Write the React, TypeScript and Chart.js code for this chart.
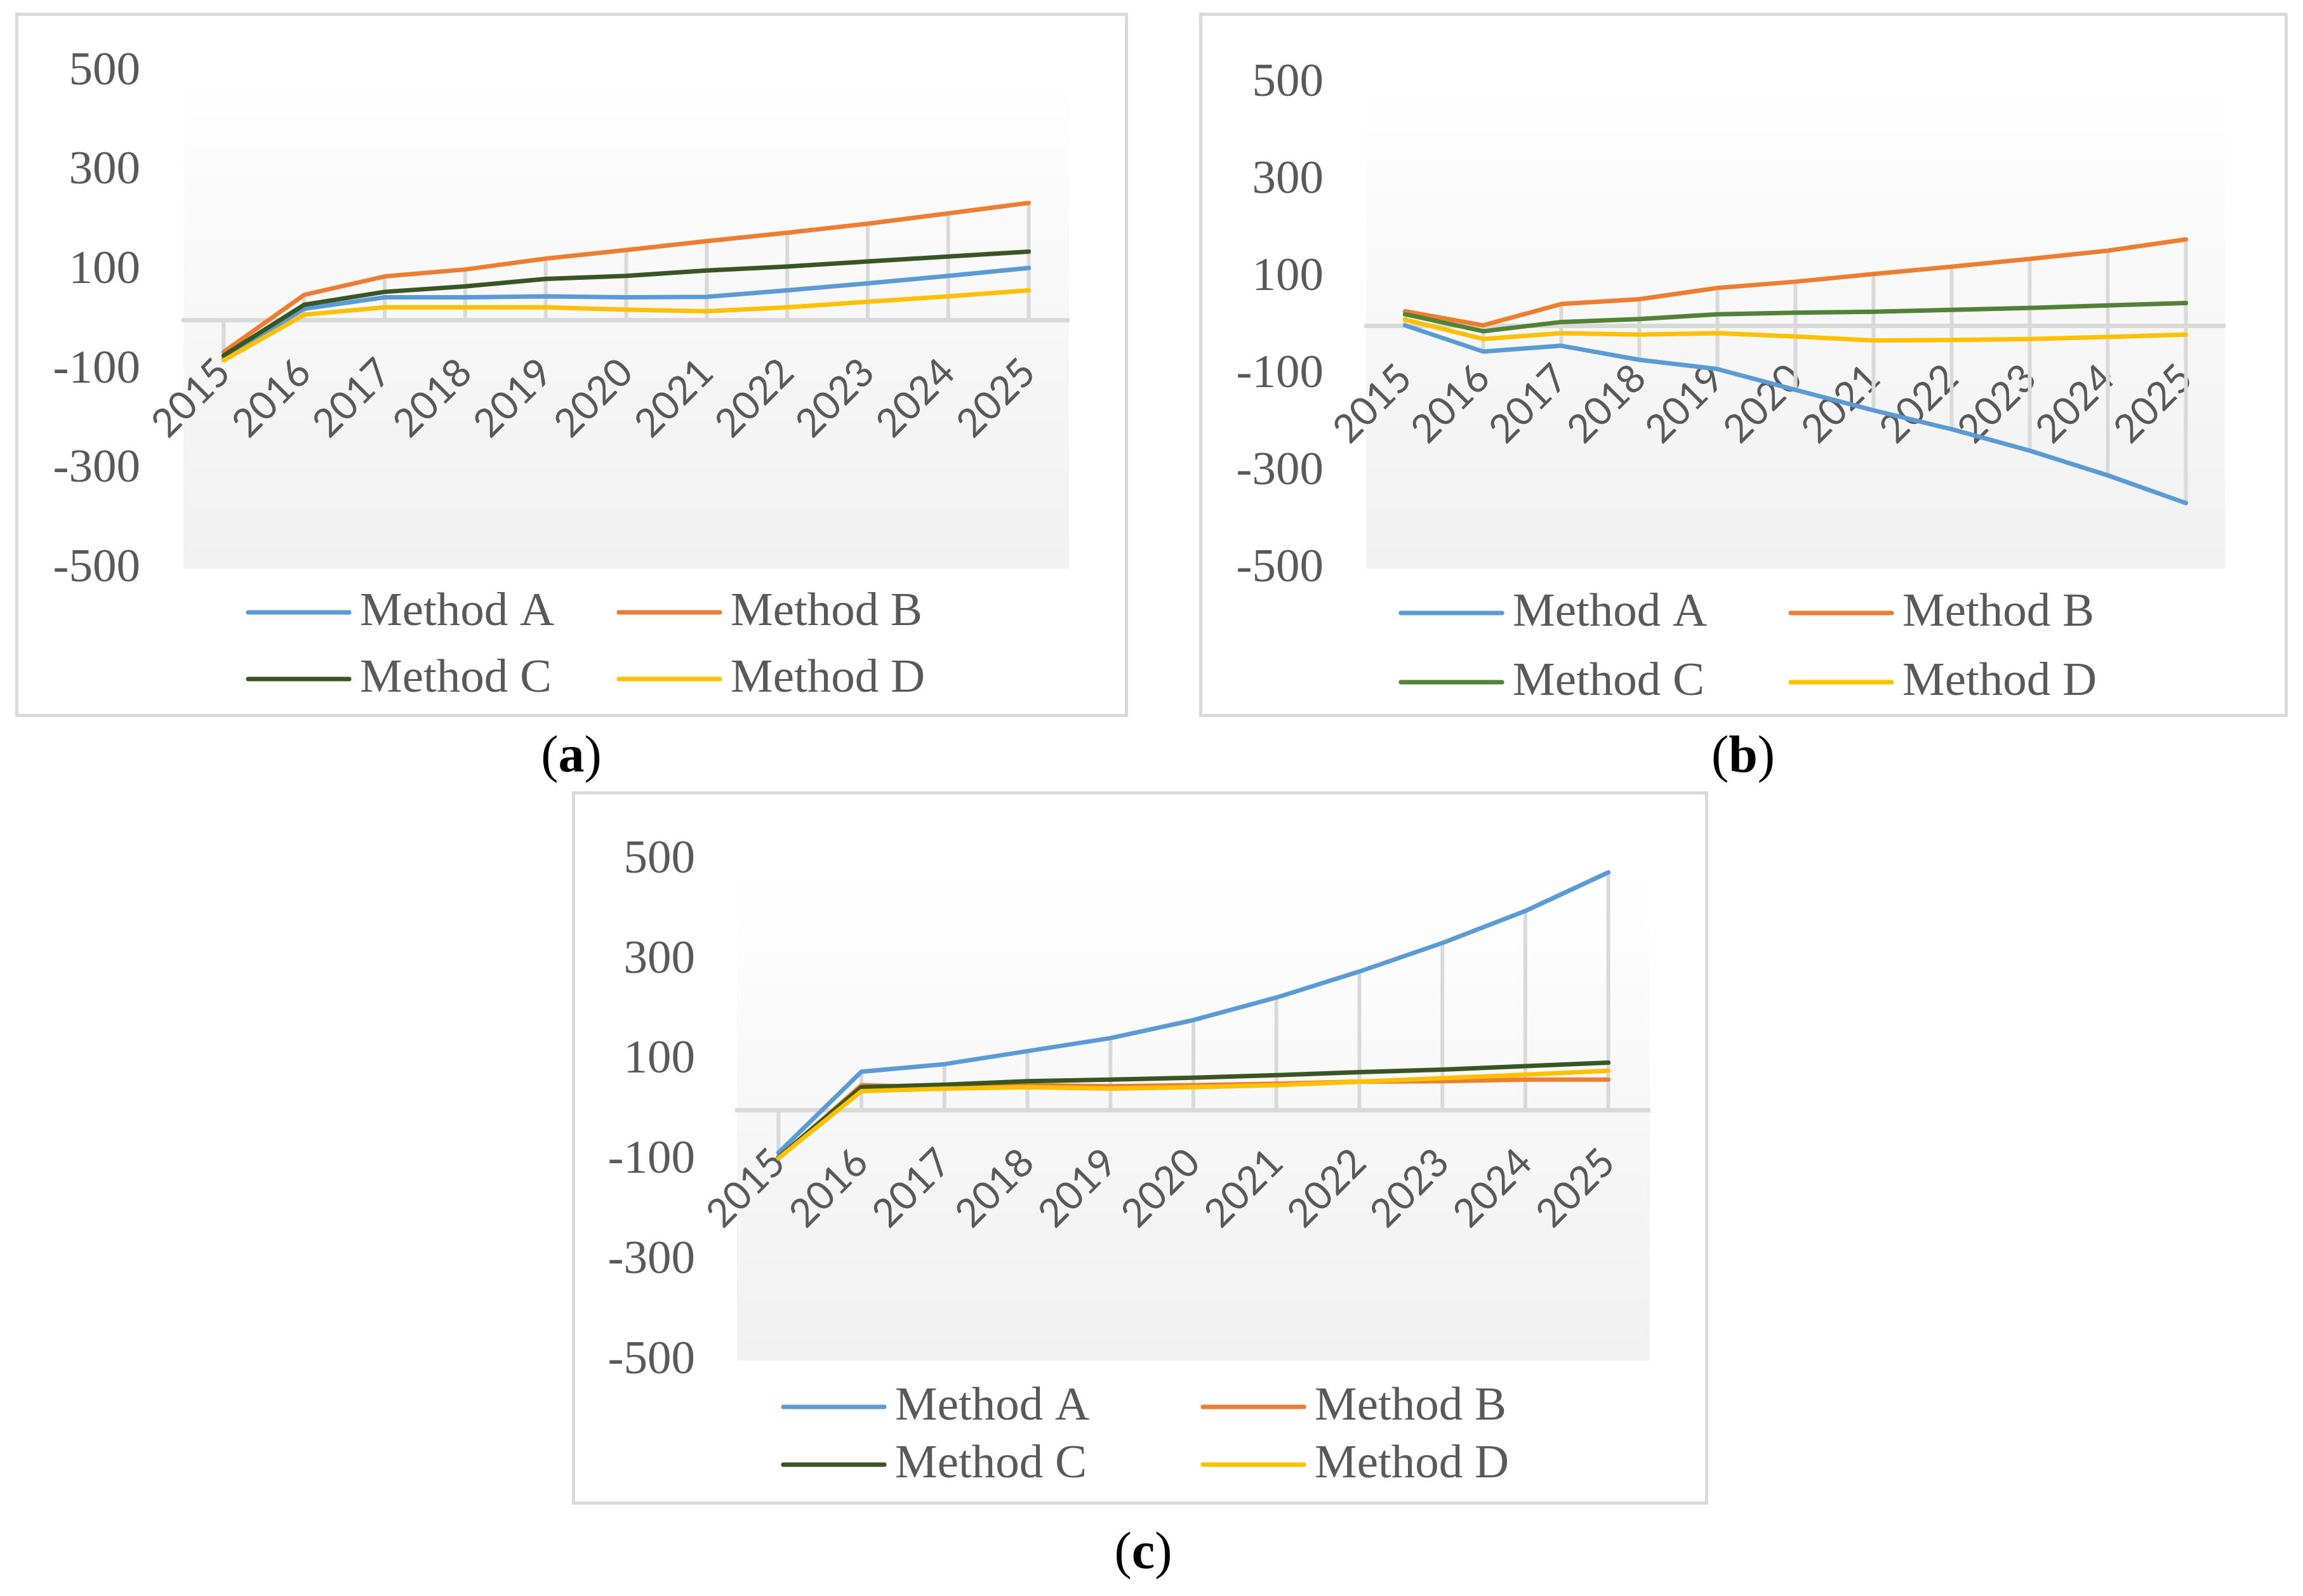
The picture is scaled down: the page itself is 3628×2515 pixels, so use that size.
import React, { useEffect, useRef } from "react";
import { Chart, registerables } from "chart.js";

Chart.register(...registerables);

// ---------- data ----------
const years = ["2015", "2016", "2017", "2018", "2019", "2020", "2021", "2022", "2023", "2024", "2025"];
const yTickValues = [-500, -300, -100, 100, 300, 500];
const seriesNames = ["Method A", "Method B", "Method C", "Method D"];

// panel (a)
const aMethodA = [-76, 23, 46, 46, 48, 46, 47, 60, 74, 89, 105];
const aMethodB = [-64, 51, 88, 102, 124, 141, 159, 176, 194, 215, 236];
const aMethodC = [-71, 31, 57, 68, 83, 89, 100, 108, 118, 128, 138];
const aMethodD = [-81, 11, 26, 26, 26, 21, 18, 26, 37, 48, 60];

// panel (b)
const bMethodA = [1, -53, -41, -70, -89, -132, -174, -213, -257, -308, -365];
const bMethodB = [30, 1, 45, 55, 78, 91, 107, 122, 138, 155, 178];
const bMethodC = [24, -11, 8, 14, 24, 27, 29, 33, 37, 42, 47];
const bMethodD = [13, -27, -15, -18, -15, -22, -30, -29, -27, -23, -18];

// panel (c)
const cMethodA = [-85, 77, 92, 118, 144, 180, 225, 277, 334, 398, 475];
const cMethodB = [-96, 50, 45, 50, 48, 50, 53, 57, 58, 61, 61];
const cMethodC = [-94, 46, 51, 58, 61, 65, 70, 76, 81, 88, 95];
const cMethodD = [-96, 38, 43, 46, 43, 46, 50, 57, 64, 71, 79];

// ---------- styles ----------
const colorsAC = ["#5b9bd5", "#ed7d31", "#375623", "#ffc000"];
const colorsB = ["#5b9bd5", "#ed7d31", "#538135", "#ffc000"];
const TEXT_GRAY = "#595959";
const LINE_W = 7;

const panels = [
  {
    key: "a",
    caption: "a",
    captionX: 900,
    captionBaseline: 1217,
    box: { left: 24, top: 20, width: 1753, height: 1110 },
    pad: { left: 260, top: 88, right: 88, bottom: 229 },
    yPad: 68,
    xPad: 46,
    fade: 0.12,
    legend: { x: 359, y: 940, colGap: 584, rowGap: 105 },
    series: [aMethodA, aMethodB, aMethodC, aMethodD],
    colors: colorsAC,
  },
  {
    key: "b",
    caption: "b",
    captionX: 2746,
    captionBaseline: 1217,
    box: { left: 1889, top: 20, width: 1715, height: 1110 },
    pad: { left: 258, top: 106, right: 94, bottom: 229 },
    yPad: 67,
    xPad: 46,
    fade: 0.13,
    legend: { x: 310, y: 941, colGap: 614, rowGap: 109 },
    series: [bMethodA, bMethodB, bMethodC, bMethodD],
    colors: colorsB,
  },
  {
    key: "c",
    caption: "c",
    captionX: 1801,
    captionBaseline: 2472,
    box: { left: 901, top: 1247, width: 1790, height: 1124 },
    pad: { left: 255, top: 103, right: 87, bottom: 222 },
    yPad: 66,
    xPad: 46,
    fade: 0.16,
    legend: { x: 325, y: 965, colGap: 661, rowGap: 91 },
    series: [cMethodA, cMethodB, cMethodC, cMethodD],
    colors: colorsAC,
  },
];

const BORDER = 5;

// ---------- plugins ----------
const bgPlugin = {
  id: "plotBg",
  beforeDraw(chart: any, _a: any, opts: any) {
    const { ctx, chartArea } = chart;
    if (!chartArea) return;
    const { left, top, right, bottom } = chartArea;
    const g = ctx.createLinearGradient(0, top, 0, bottom);
    g.addColorStop(0, "#ffffff");
    g.addColorStop(opts.fade, "#fdfdfd");
    g.addColorStop(0.5, "#f7f7f7");
    g.addColorStop(1, "#f1f1f1");
    ctx.save();
    ctx.fillStyle = g;
    ctx.fillRect(left, top, right - left, bottom - top);
    ctx.restore();
  },
};

const dropLinePlugin = {
  id: "dropLines",
  beforeDatasetsDraw(chart: any) {
    const { ctx } = chart;
    const x = chart.scales.x;
    const y = chart.scales.y;
    const n = chart.data.labels.length;
    ctx.save();
    ctx.strokeStyle = "#d9d9d9";
    ctx.lineWidth = 6;
    for (let i = 0; i < n; i++) {
      let hi = 0;
      let lo = 0;
      chart.data.datasets.forEach((ds: any) => {
        const v = ds.data[i];
        if (v > hi) hi = v;
        if (v < lo) lo = v;
      });
      const px = x.getPixelForValue(i);
      ctx.beginPath();
      ctx.moveTo(px, y.getPixelForValue(hi));
      ctx.lineTo(px, y.getPixelForValue(lo));
      ctx.stroke();
    }
    ctx.restore();
  },
};

const gridLegendPlugin = {
  id: "gridLegend",
  afterDraw(chart: any, _a: any, opts: any) {
    const { ctx } = chart;
    chart.data.datasets.forEach((ds: any, i: number) => {
      const col = i % 2;
      const row = Math.floor(i / 2);
      const x = opts.x + col * opts.colGap;
      const y = opts.y + row * opts.rowGap;
      ctx.save();
      ctx.strokeStyle = ds.borderColor;
      ctx.lineWidth = LINE_W;
      ctx.lineCap = "round";
      ctx.beginPath();
      ctx.moveTo(x + 3, y);
      ctx.lineTo(x + 162, y);
      ctx.stroke();
      ctx.fillStyle = TEXT_GRAY;
      ctx.font = '75px "Liberation Serif"';
      ctx.textBaseline = "middle";
      ctx.textAlign = "left";
      ctx.fillText(ds.label, x + 179, y);
      ctx.restore();
    });
  },
};

function Panel({ cfg }: { cfg: any }) {
  const ref = useRef<HTMLCanvasElement | null>(null);
  const w = cfg.box.width - 2 * BORDER;
  const h = cfg.box.height - 2 * BORDER;

  useEffect(() => {
    if (!ref.current) return;
    const chart = new Chart(ref.current, {
      type: "line",
      data: {
        labels: years,
        datasets: seriesNames.map((name, i) => ({
          label: name,
          data: cfg.series[i],
          borderColor: cfg.colors[i],
          backgroundColor: cfg.colors[i],
          borderWidth: LINE_W,
          pointRadius: 0,
          pointHoverRadius: 0,
          tension: 0,
          fill: false,
          borderJoinStyle: "round",
          borderCapStyle: "round",
          order: 4 - i,
        })),
      },
      options: {
        animation: false,
        responsive: false,
        devicePixelRatio: 1,
        events: [],
        layout: {
          padding: { left: 0, top: cfg.pad.top, right: cfg.pad.right, bottom: cfg.pad.bottom },
        },
        scales: {
          x: {
            type: "category",
            position: { y: 0 },
            offset: true,
            grid: { display: true, color: "rgba(0,0,0,0)", drawTicks: false, offset: true },
            border: { display: true, color: "#d9d9d9", width: 7 },
            afterFit: (s: any) => {
              s.paddingLeft = 0;
              s.paddingRight = 0;
            },
            ticks: {
              autoSkip: false,
              minRotation: 45,
              maxRotation: 45,
              padding: cfg.xPad,
              color: TEXT_GRAY,
              font: { family: "Lato", size: 62 },
            },
          },
          y: {
            type: "linear",
            min: -500,
            max: 500,
            grid: { display: false, drawTicks: false },
            border: { display: false },
            afterBuildTicks: (s: any) => {
              s.ticks = yTickValues.map((v) => ({ value: v }));
            },
            afterFit: (s: any) => {
              s.width = cfg.pad.left;
              s.paddingTop = 0;
              s.paddingBottom = 0;
            },
            ticks: {
              padding: cfg.yPad,
              color: TEXT_GRAY,
              font: { family: "Liberation Serif", size: 75 },
              callback: (v: any) => String(v),
            },
          },
        },
        plugins: {
          legend: { display: false },
          tooltip: { enabled: false },
          title: { display: false },
          plotBg: { fade: cfg.fade },
          gridLegend: cfg.legend,
        } as any,
      } as any,
      plugins: [bgPlugin, dropLinePlugin, gridLegendPlugin],
    });
    return () => chart.destroy();
  }, [cfg]);

  return (
    <>
      <div
        style={{
          position: "absolute",
          left: cfg.box.left,
          top: cfg.box.top,
          width: cfg.box.width,
          height: cfg.box.height,
          border: `${BORDER}px solid #d9d9d9`,
          boxSizing: "border-box",
          background: "#ffffff",
        }}
      >
        <canvas
          ref={ref}
          width={w}
          height={h}
          style={{ display: "block", width: w, height: h }}
        />
      </div>
      <div
        style={{
          position: "absolute",
          left: cfg.captionX - 150,
          width: 300,
          top: cfg.captionBaseline - 69,
          fontFamily: '"Liberation Serif", serif',
          fontSize: 82,
          lineHeight: "82px",
          textAlign: "center",
          color: "#000000",
          whiteSpace: "nowrap",
        }}
      >
        (<b>{cfg.caption}</b>)
      </div>
    </>
  );
}

export default function App() {
  return (
    <div
      style={{
        position: "absolute",
        left: 0,
        top: 0,
        width: 3628,
        height: 2515,
        background: "#ffffff",
        overflow: "hidden",
      }}
    >
      {panels.map((p) => (
        <Panel key={p.key} cfg={p} />
      ))}
    </div>
  );
}
